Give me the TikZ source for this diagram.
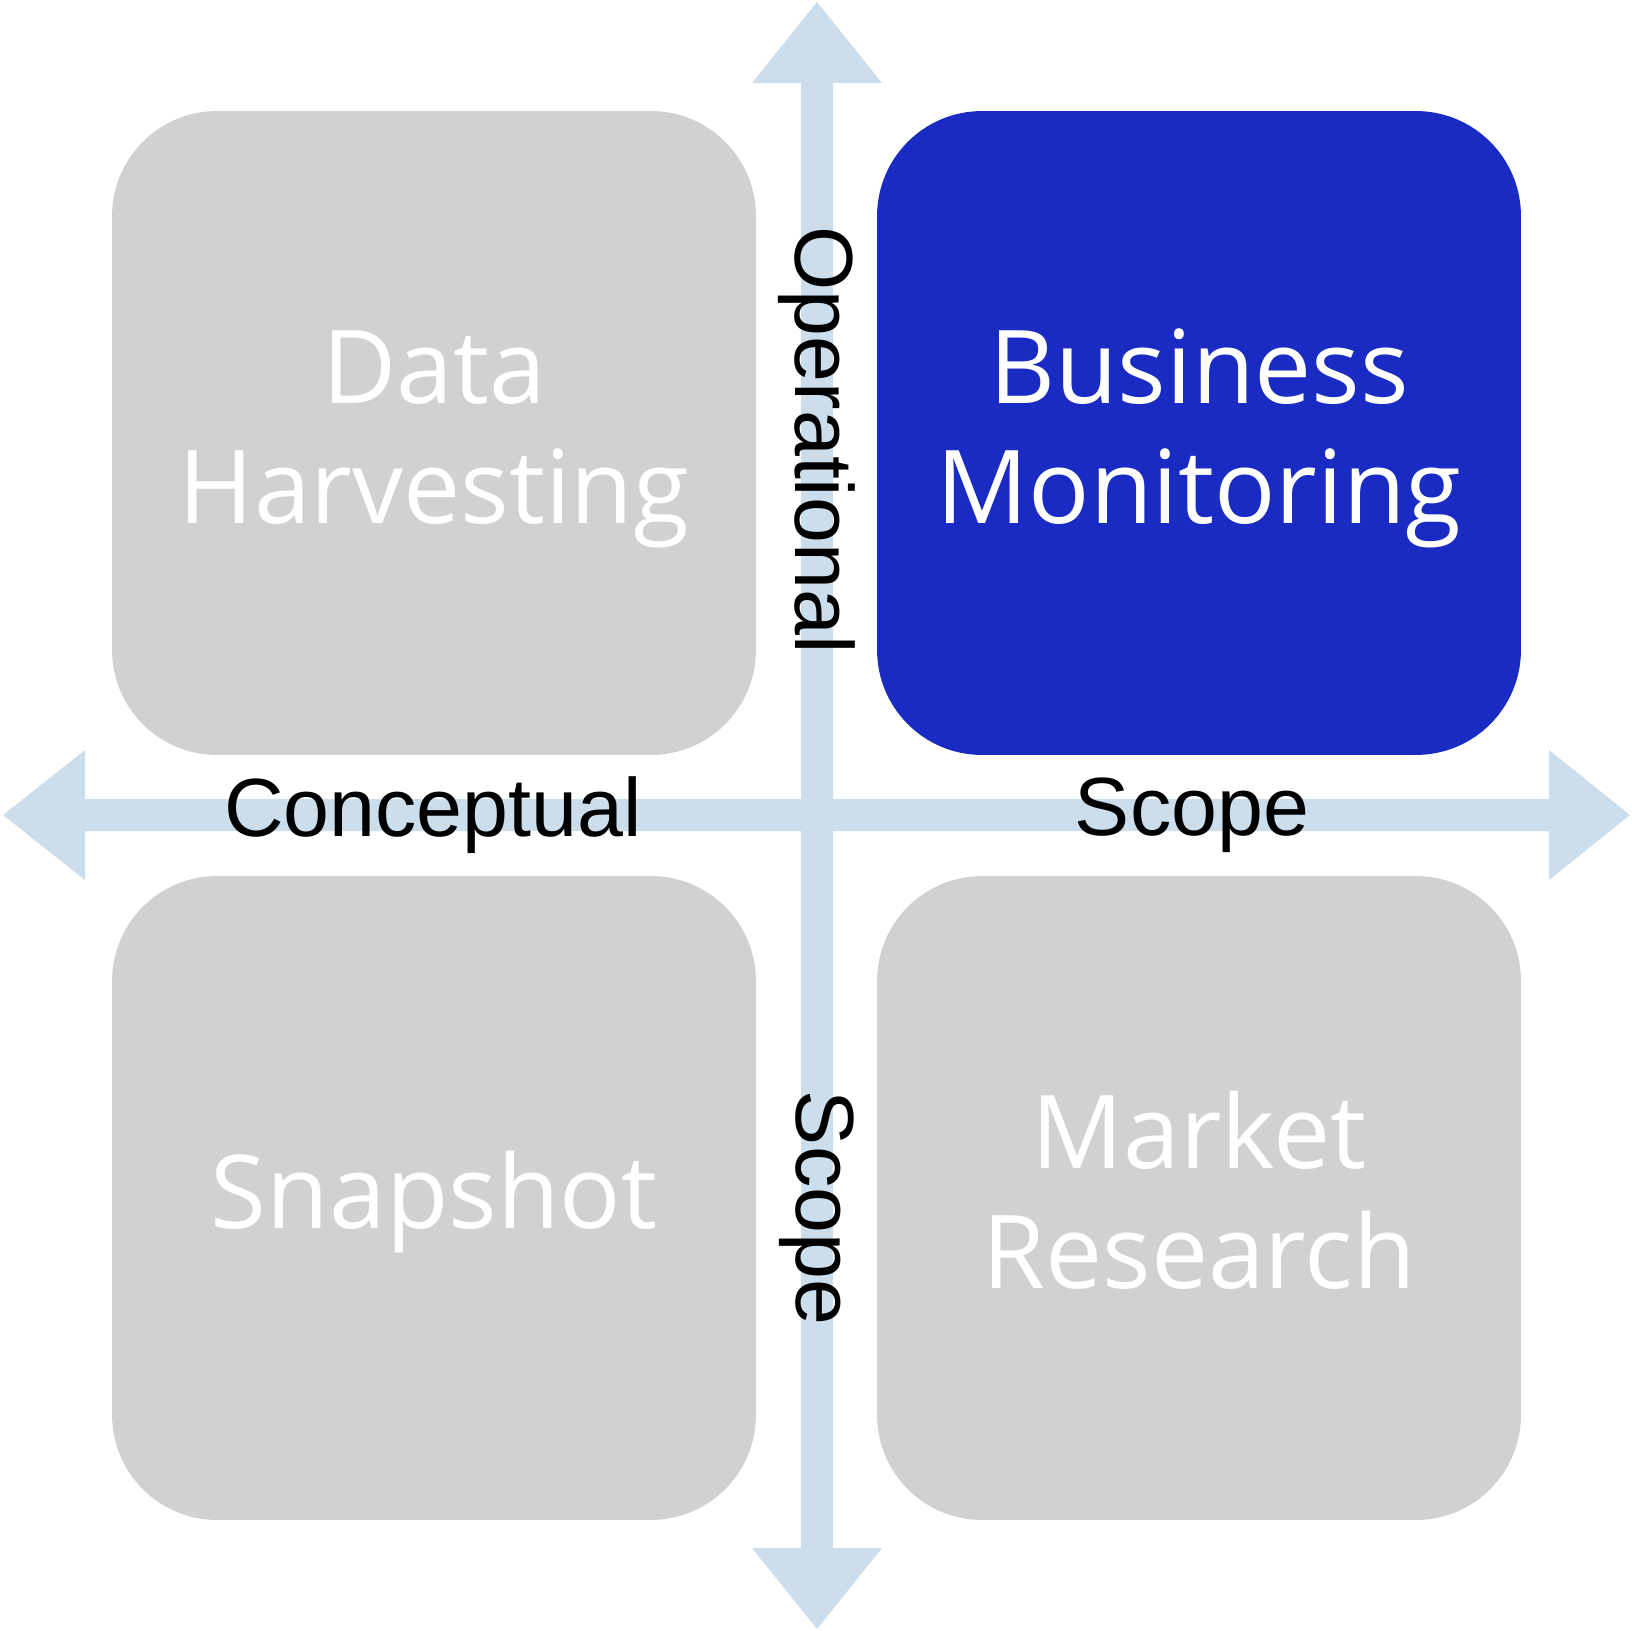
\documentclass[tikz,border=0pt]{standalone}
\usepackage{fontspec}
\usepackage{xcolor}
\newfontfamily\quadfont{Open Sans}
\newfontfamily\axisfont{Liberation Sans}
\definecolor{quadGrey}{RGB}{209,209,209}
\definecolor{quadBlue}{RGB}{25,43,194}
\definecolor{axisSky}{RGB}{204,222,236}
\newcommand{\qstrut}{\rule[-0.25\baselineskip]{0pt}{\baselineskip}}
\tikzset{
  quadbox/.style={rounded corners=2.1cm,minimum width=12.88cm,minimum height=12.88cm,
    inner sep=0pt,align=center,text=white,font=\quadfont\fontsize{58}{68.3}\selectfont},
  axislabel/.style={font=\axisfont\fontsize{47}{56}\selectfont,inner sep=0pt}
}
\begin{document}
\begin{tikzpicture}[x=0.02cm,y=-0.02cm]
  \useasboundingbox[fill=white] (0,0) rectangle (1631,1631);
  % the four quadrants
  \node[quadbox,fill=quadGrey] (harvest) at (434,433) {Data\qstrut\\Harvesting\qstrut};
  \node[quadbox,fill=quadBlue] (monitor) at (1199,433) {Business\qstrut\\Monitoring\qstrut};
  \node[quadbox,fill=quadGrey] (snapshot) at (434,1198) {Snapshot\qstrut};
  \node[quadbox,fill=quadGrey] (market) at (1199,1198) {Market\qstrut\\Research\qstrut};
  % axes: two double-headed block arrows crossing at (817,815)
  \fill[axisSky] (3,815)--(85,750)--(85,799)--(1549,799)--(1549,750)--(1630,815)
    --(1549,880)--(1549,831)--(85,831)--(85,880)--cycle;
  \fill[axisSky] (817,2)--(882,83)--(833,83)--(833,1548)--(882,1548)--(817,1629)
    --(752,1548)--(801,1548)--(801,83)--(752,83)--cycle;
  \node[axislabel] (conceptual) at (433,815) {Conceptual};
  \node[axislabel] (scopeH) at (1192,815) {Scope};
  \node[axislabel,rotate=-90] (operational) at (817,440) {Operational};
  \node[axislabel,rotate=-90] (scopeV) at (817,1208) {Scope};
\end{tikzpicture}
\end{document}
